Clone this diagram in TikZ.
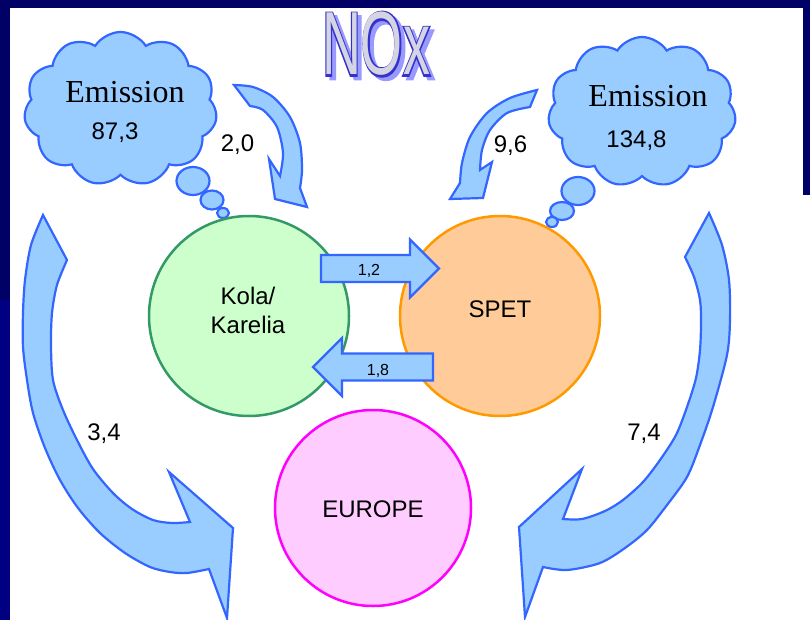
\documentclass[tikz,border=0pt]{standalone}
\usepackage{fontspec}
\setmainfont{Liberation Sans}
\newfontfamily\emitfont{Liberation Serif}
\newfontfamily\rimfont{Liberation Sans}[FakeBold=4]
\usepackage{graphicx}
\usetikzlibrary{shapes.symbols}
\definecolor{slideblue}{HTML}{000066}
\definecolor{slideblueb}{HTML}{000080}
\definecolor{flowfill}{HTML}{99CCFF}
\definecolor{flowline}{HTML}{3366FF}
\definecolor{kolafill}{HTML}{CCFFCC}
\definecolor{kolaline}{HTML}{339966}
\definecolor{spetfill}{HTML}{FFCC99}
\definecolor{spetline}{HTML}{FF9900}
\definecolor{eurofill}{HTML}{FFCCFF}
\definecolor{euroline}{HTML}{FF00FF}
\definecolor{noxfill}{HTML}{D4D4E2}
\definecolor{noxline}{HTML}{3333CC}
\definecolor{noxshade}{HTML}{9999FF}
\newcommand{\noxword}{\scalebox{1}[1.66]{NOx}}
\tikzset{
  flow/.style={fill=flowfill, draw=flowline, line width=2.2pt},
  puff/.style={cloud, cloud puffs=11, cloud puff arc=115, flow, inner sep=0pt},
  region/.style={circle, line width=2.5pt, minimum size=#1, inner sep=0pt},
  region/.default=200pt,
  val/.style={font=\fontsize{24}{24}\selectfont, inner sep=0pt, anchor=base},
  small/.style={font=\fontsize{16}{16}\selectfont, inner sep=0pt, anchor=base},
  emit/.style={font=\emitfont\fontsize{32}{32}\selectfont, inner sep=0pt, anchor=base},
  titletext/.style={font=\fontsize{54}{54}\selectfont, inner sep=0pt, anchor=base},
}

\begin{document}
\begin{tikzpicture}[x=1pt,y=-1pt]
    \useasboundingbox (0,0) rectangle (810,620);
    % slide frame
    \fill[white] (0,0) rectangle (810,620);
    \fill[slideblue] (0,0) rectangle (810,8);
    \fill[slideblue] (0,0) rectangle (10,300);
    \fill[slideblueb] (0,300) rectangle (10,620);
    \fill[slideblue] (803,0) rectangle (810,195);

    % title: shadow, outline, face
    \node[titletext, text=noxshade] (shade) at (380,78.5) {\rimfont\noxword};
    \node[titletext, text=noxline] (rim) at (376,75) {\rimfont\noxword};
    \node[titletext, text=noxfill] (title) at (376,75) {\noxword};

    % emission clouds
    \node[puff, minimum width=193pt, minimum height=154pt] (cloudK) at (120.5,109) {};
    \node[puff, minimum width=188pt, minimum height=150pt] (cloudS) at (642,112) {};
    \draw[flow] (193,181) ellipse [x radius=16.5pt, y radius=14pt];
    \draw[flow] (212,200) ellipse [x radius=11.5pt, y radius=9.5pt];
    \draw[flow] (223,213) ellipse [x radius=6pt, y radius=5pt];
    \draw[flow] (578,191) ellipse [x radius=16.5pt, y radius=14pt];
    \draw[flow] (562,211) ellipse [x radius=12pt, y radius=9pt];
    \draw[flow] (552,222) ellipse [x radius=6pt, y radius=5pt];
    \node[emit] (emK) at (125,103) {Emission};
    \node[val] (numK) at (115,140) {87,3};
    \node[emit] (emS) at (648,107) {Emission};
    \node[val] (numS) at (636.5,148) {134,8};

    % bent flows
    \draw[flow] plot[smooth] coordinates {(234,85) (253,87) (273,97) (290,117) (300,143) (302,170) (300,188)}
        -- (307,207) -- (275,199) -- (269,159) -- plot[smooth] coordinates {(280,176) (283,153) (277,127) (263,110) (250,106)} -- cycle;
    \draw[flow] plot[smooth] coordinates {(537,90) (510,98) (487,113) (470,137) (462,163) (460,183)}
        -- (450,199) -- (483,198) -- (492,162) -- plot[smooth] coordinates {(480,170) (482,150) (490,130) (507,113) (530,107)} -- cycle;
    \draw[flow] plot[smooth] coordinates {(43,215) (31,245) (25,280) (23,313) (23,347) (27,380) (33,413) (45,448) (60,480) (78,508) (100,533) (125,553) (150,567) (170,572) (187,573) (209,569)}
        -- (227,618) -- (233,528) -- (169,472) -- plot[smooth] coordinates {(190,522) (172,523) (153,520) (132,509) (113,493) (93,469) (77,440) (63,410) (53,380) (51,345) (52,313) (57,285) (67,260)} -- cycle;
    \draw[flow] plot[smooth] coordinates {(709,213) (722,245) (729,280) (730,320) (727,355) (713,407) (700,445) (687,477) (667,505) (647,530) (625,548) (600,563) (567,570) (543,567)}
        -- (525,617) -- (519,527) -- (582,469) -- plot[smooth] coordinates {(563,519) (582,519) (605,511) (623,500) (643,482) (660,460) (676,435) (687,407) (696,378) (700,350) (701,322) (700,300) (694,277) (685,257)} -- cycle;
    \node[val] (fKK) at (237.5,152) {2,0};
    \node[val] (fSS) at (510.5,153) {9,6};
    \node[val] (fKE) at (104,440) {3,4};
    \node[val] (fSE) at (644,440) {7,4};

    % regions
    \node[region, fill=kolafill, draw=kolaline] (kola) at (249,316) {};
    \node[region, fill=spetfill, draw=spetline] (spet) at (500,316) {};
    \node[region=196pt, fill=eurofill, draw=euroline] (europe) at (373,508) {};
    \node[val, align=center] (kolaT) at (248,333) {Kola/\\[5pt]Karelia};
    \node[val] (spetT) at (500,317) {SPET};
    \node[val] (europeT) at (373,517) {EUROPE};

    % exchange between regions
    \draw[flow] (321,255) -- (410,255) -- (410,239.5) -- (439,268.5) -- (410,297.5) -- (410,282) -- (321,282) -- cycle;
    \draw[flow] (433,353.5) -- (342,353.5) -- (342,338) -- (313,367) -- (342,396) -- (342,380.5) -- (433,380.5) -- cycle;
    \node[small] (fKS) at (369,275) {1,2};
    \node[small] (fSK) at (378,375) {1,8};
\end{tikzpicture}
\end{document}
